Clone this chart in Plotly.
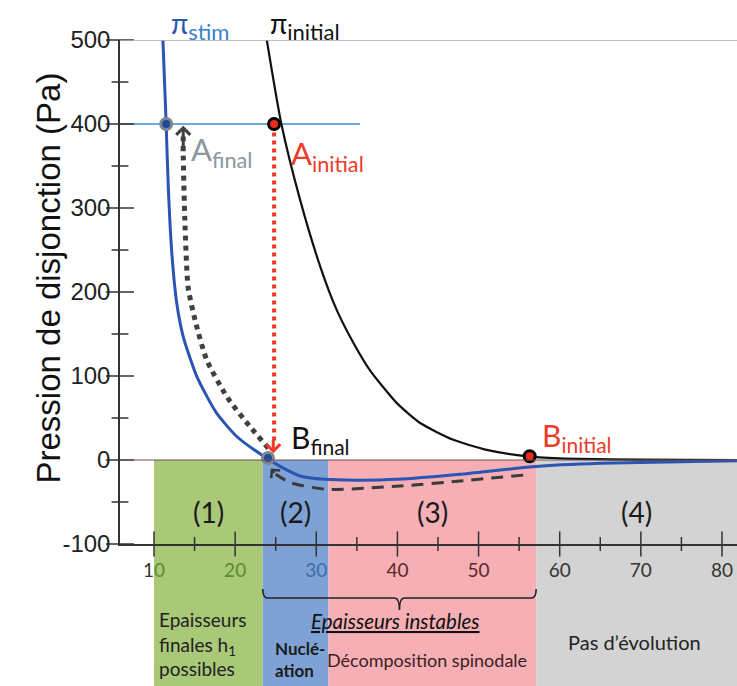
import plotly.graph_objects as go

# ---------------- data ----------------
h_stim = [11.1, 11.5, 11.76, 12.2, 12.8, 13.6, 15.3, 17.7, 20.2, 23.9, 26.0, 28.0, 31.0, 35.0, 40.0, 47.7, 56.7, 65.0, 75.0, 81.85]
p_stim = [500, 400, 325, 246, 187, 147, 99, 56, 28, 2, -10, -19, -23, -24, -23, -17, -8, -4, -2, -1]

h_init = [23.9, 25.7, 28.0, 30.5, 32.5, 34.6, 36.6, 39.9, 42.8, 46.9, 51.0, 55.5, 60.0, 70.0, 81.85]
p_init = [500, 400, 310, 230, 179, 139, 107, 68, 44, 24, 12, 5, 2, 0.5, 0]

# path of the return arrow B_final -> A_final (dotted)
h_return = [24.1, 21.8, 19.0, 16.5, 15.05, 14.2, 13.8, 13.6, 13.6]
p_return = [14, 40, 75, 119, 167, 206, 286, 365, 385]

# path of the dashed arrow B_initial -> B_final
h_drain = [55.5, 47.7, 40.3, 31.3, 26.8, 25.0]
p_drain = [-18, -25, -31, -35, -27, -17]

# red dotted drop A_initial -> B_final
h_drop = [24.8, 24.8]
p_drop = [390, 22]

points = {
    "A_final": (11.5, 400),
    "A_initial": (24.8, 400),
    "B_final": (24.05, 2.4),
    "B_initial": (56.3, 4.5),
}

# regions (thickness ranges)
region_edges = [10, 23.4, 31.5, 57.1, 81.85]
region_labels = ["(1)", "(2)", "(3)", "(4)"]
region_colors = ["#a9c878", "#7ea2d5", "#f5afb5", "#d3d3d3"]

x_ticks = [10, 20, 30, 40, 50, 60, 70, 80]
x_ticktext = [
    "<span style='color:#333'>1</span><span style='color:#5f8a2e'>0</span>",
    "<span style='color:#5f8a2e'>20</span>",
    "<span style='color:#3a6ea8'>30</span>",
    "<span style='color:#5a2a2a'>40</span>",
    "<span style='color:#5a2a2a'>50</span>",
    "<span style='color:#333'>60</span>",
    "<span style='color:#333'>70</span>",
    "<span style='color:#333'>80</span>",
]
x_minor = [15, 25, 35, 45, 55, 65, 75]
y_ticks = [-100, 0, 100, 200, 300, 400, 500]
y_ticktext = ["-100", "0", "100", "200", "300", "400", "500"]
y_minor = [-50, 50, 150, 250, 350, 450]

line400_end = 35.4

# ---------------- layout constants ----------------
W, H = 737, 686
OFF = 0                      # page body margin is removed below
PLOT_L, PLOT_R, PLOT_T, PLOT_B = 120, 737, 40, 544   # plot area in window pixels
ML = PLOT_L - OFF
MT = PLOT_T - OFF
MR = W - (PLOT_R - OFF)
MB = H - (PLOT_B - OFF)
plot_w = W - ML - MR
plot_h = H - MT - MB
xmin, xmax = 5.81, 81.85
ymin, ymax = -100, 500

def py(v):   # window y pixel -> paper y
    return (PLOT_B - v) / plot_h
def px(v):   # window x pixel -> paper x
    return (v - PLOT_L) / plot_w

y0_paper = (0 - ymin) / (ymax - ymin)

SANS = "Liberation Sans, Arial, sans-serif"
CAL = "Lato, Carlito, sans-serif"

fig = go.Figure()

# reference line at 400
fig.add_trace(go.Scatter(x=[xmin, line400_end], y=[400, 400], mode="lines",
                         line=dict(color="#3b8bd9", width=1.5), hoverinfo="skip", cliponaxis=False))

# curves
fig.add_trace(go.Scatter(x=h_init, y=p_init, mode="lines",
                         line=dict(color="#111111", width=2.2, shape="spline", smoothing=0.6),
                         hoverinfo="skip"))
fig.add_trace(go.Scatter(x=h_stim, y=p_stim, mode="lines",
                         line=dict(color="#2a55b5", width=3, shape="spline", smoothing=0.6),
                         hoverinfo="skip"))

# arrow paths
fig.add_trace(go.Scatter(x=h_drop, y=p_drop, mode="lines",
                         line=dict(color="#f03a2a", width=4, dash="dot"), hoverinfo="skip"))
fig.add_trace(go.Scatter(x=h_return, y=p_return, mode="lines",
                         line=dict(color="#404040", width=5, dash="dot", shape="spline", smoothing=0.6),
                         hoverinfo="skip"))
fig.add_trace(go.Scatter(x=h_drain, y=p_drain, mode="lines",
                         line=dict(color="#3a3a3a", width=3, dash="12px,8px", shape="spline", smoothing=0.6),
                         hoverinfo="skip"))

# points
fig.add_trace(go.Scatter(x=[points["A_final"][0], points["B_final"][0]],
                         y=[points["A_final"][1], points["B_final"][1]], mode="markers",
                         marker=dict(size=11, color="#1f4a9a", line=dict(color="#7f868c", width=3)),
                         hoverinfo="skip", cliponaxis=False))
fig.add_trace(go.Scatter(x=[points["A_initial"][0], points["B_initial"][0]],
                         y=[points["A_initial"][1], points["B_initial"][1]], mode="markers",
                         marker=dict(size=11, color="#ee2a1e", line=dict(color="#000000", width=3)),
                         hoverinfo="skip", cliponaxis=False))

# crossing tick marks
fig.add_trace(go.Scatter(x=x_ticks, y=[ymin] * len(x_ticks), mode="markers",
                         marker=dict(symbol="line-ns", size=18, line=dict(color="#333", width=1.5)),
                         hoverinfo="skip", cliponaxis=False))
fig.add_trace(go.Scatter(x=x_minor, y=[ymin] * len(x_minor), mode="markers",
                         marker=dict(symbol="line-ns", size=10, line=dict(color="#333", width=1.5)),
                         hoverinfo="skip", cliponaxis=False))
fig.add_trace(go.Scatter(x=[xmin] * len(y_ticks), y=y_ticks, mode="markers",
                         marker=dict(symbol="line-ew", size=20, line=dict(color="#333", width=1.5)),
                         hoverinfo="skip", cliponaxis=False))
fig.add_trace(go.Scatter(x=[xmin] * len(y_minor), y=y_minor, mode="markers",
                         marker=dict(symbol="line-ew", size=12, line=dict(color="#333", width=1.5)),
                         hoverinfo="skip", cliponaxis=False))

shapes = []
for i in range(4):
    shapes.append(dict(type="rect", xref="x", yref="paper",
                       x0=region_edges[i], x1=region_edges[i + 1],
                       y0=-MB / plot_h, y1=y0_paper,
                       fillcolor=region_colors[i], line=dict(width=0), layer="below"))
# top (500) and zero lines
shapes.append(dict(type="line", xref="paper", yref="y", x0=0, x1=1, y0=500, y1=500,
                   line=dict(color="#a9b1b3", width=1.5)))
shapes.append(dict(type="line", xref="paper", yref="y", x0=0, x1=1, y0=0, y1=0,
                   line=dict(color="#6e5252", width=1.2)))

# brace over unstable thicknesses
bx0, bx1 = region_edges[1], region_edges[3]
bxm = (bx0 + bx1) / 2
d = 0.6
yb = py(598)
yh = py(589)
yt = py(610)
brace = (f"M {bx0},{yh} Q {bx0},{yb} {bx0+d},{yb} L {bxm-d},{yb} Q {bxm},{yb} {bxm},{yt} "
         f"Q {bxm},{yb} {bxm+d},{yb} L {bx1-d},{yb} Q {bx1},{yb} {bx1},{yh}")
shapes.append(dict(type="path", xref="x", yref="paper", path=brace,
                   line=dict(color="#222", width=1.6)))

ann = []
# region labels
for i in range(4):
    ann.append(dict(x=(region_edges[i] + region_edges[i + 1]) / 2, y=-62, xref="x", yref="y",
                    text=region_labels[i], showarrow=False,
                    font=dict(family=CAL, size=28, color="#1a1a1a")))

# curve labels
ann.append(dict(x=11.8, y=500, xref="x", yref="y", xanchor="left", yanchor="bottom", yshift=-7,
                text="π<sub><span style='color:#3b7fd0;font-size:22px'>stim</span></sub>", showarrow=False,
                font=dict(family=CAL, size=28, color="#2a56b0")))
ann.append(dict(x=24.0, y=500, xref="x", yref="y", xanchor="left", yanchor="bottom", yshift=-7,
                text="π<sub><span style='font-size:22px'>initial</span></sub>", showarrow=False,
                font=dict(family=CAL, size=28, color="#111")))
ann.append(dict(x=14.3, y=367, xref="x", yref="y", xanchor="left", yanchor="middle",
                text="A<sub>final</sub>", showarrow=False,
                font=dict(family=CAL, size=31, color="#8a979c")))
ann.append(dict(x=26.6, y=363, xref="x", yref="y", xanchor="left", yanchor="middle",
                text="A<sub>initial</sub>", showarrow=False,
                font=dict(family=CAL, size=31, color="#f03a2a")))
ann.append(dict(x=26.6, y=25, xref="x", yref="y", xanchor="left", yanchor="middle",
                text="B<sub>final</sub>", showarrow=False,
                font=dict(family=CAL, size=30, color="#111")))
ann.append(dict(x=57.6, y=27, xref="x", yref="y", xanchor="left", yanchor="middle",
                text="B<sub>initial</sub>", showarrow=False,
                font=dict(family=CAL, size=30, color="#f03a2a")))

# arrowheads
ann.append(dict(x=h_return[-1], y=398, ax=h_return[-1], ay=372, xref="x", yref="y", axref="x", ayref="y",
                showarrow=True, arrowhead=4, arrowsize=0.9, arrowwidth=3, arrowcolor="#404040",
                text="", standoff=0))
ann.append(dict(x=h_drop[0] - 0.1, y=8, ax=h_drop[0] - 0.1, ay=26, xref="x", yref="y", axref="x", ayref="y",
                showarrow=True, arrowhead=4, arrowsize=0.9, arrowwidth=3, arrowcolor="#f03a2a",
                text="", standoff=0))
ann.append(dict(x=24.4, y=-10, ax=h_drain[-1], ay=p_drain[-1], xref="x", yref="y", axref="x", ayref="y",
                showarrow=True, arrowhead=4, arrowsize=0.9, arrowwidth=2.5, arrowcolor="#3a3a3a",
                text="", standoff=0))

# bottom texts
ann.append(dict(x=region_edges[0] + 0.4, y=py(606), xref="x", yref="paper",
                xanchor="left", yanchor="top", align="left",
                text="Epaisseurs<br>finales h<sub>1</sub><br>possibles", showarrow=False,
                font=dict(family=CAL, size=19, color="#222")))
ann.append(dict(x=bxm - 0.45, y=py(621), xref="x", yref="paper", yanchor="middle",
                text="<i><u>Epaisseurs instables</u></i>", showarrow=False,
                font=dict(family=CAL, size=20.5, color="#111")))
ann.append(dict(x=region_edges[1] + 1.3, y=py(659), xref="x", yref="paper",
                xanchor="left", yanchor="middle", align="left",
                text="<b>Nuclé-<br>ation</b>", showarrow=False,
                font=dict(family=CAL, size=17, color="#1a1a1a")))
ann.append(dict(x=(region_edges[2] + region_edges[3]) / 2 - 0.6, y=py(660), xref="x", yref="paper",
                yanchor="middle", text="Décomposition spinodale", showarrow=False,
                font=dict(family=CAL, size=18, color="#3a2222")))
ann.append(dict(x=(region_edges[3] + region_edges[4]) / 2 - 0.3, y=py(642), xref="x", yref="paper",
                yanchor="middle", text="Pas d’évolution", showarrow=False,
                font=dict(family=CAL, size=20, color="#222")))

# y-axis title
ann.append(dict(x=px(27), y=py(278), xref="paper", yref="paper", textangle=-90, showarrow=False,
                text="Pression de disjonction (Pa)",
                font=dict(family=SANS, size=33, color="#111")))

fig.update_layout(
    width=W, height=H,
    margin=dict(l=ML, r=MR, t=MT, b=MB),
    paper_bgcolor="white", plot_bgcolor="white",
    showlegend=False,
    shapes=shapes, annotations=ann,
    xaxis=dict(range=[xmin, xmax], showgrid=False, zeroline=False,
               showline=True, linecolor="#333", linewidth=1.5,
               tickvals=x_ticks, ticktext=x_ticktext,
               ticks="outside", ticklen=8, tickcolor="rgba(0,0,0,0)",
               tickfont=dict(family=CAL, size=19, color="#333")),
    yaxis=dict(range=[ymin, ymax], showgrid=False, zeroline=False,
               showline=True, linecolor="#333", linewidth=1.5,
               tickvals=y_ticks, ticktext=y_ticktext,
               ticks="outside", ticklen=3, tickcolor="rgba(0,0,0,0)",
               tickfont=dict(family=SANS, size=24, color="#222")),
)

fig.write_html("out.html", config={"displayModeBar": False},
               post_script="document.body.style.margin='0';")
